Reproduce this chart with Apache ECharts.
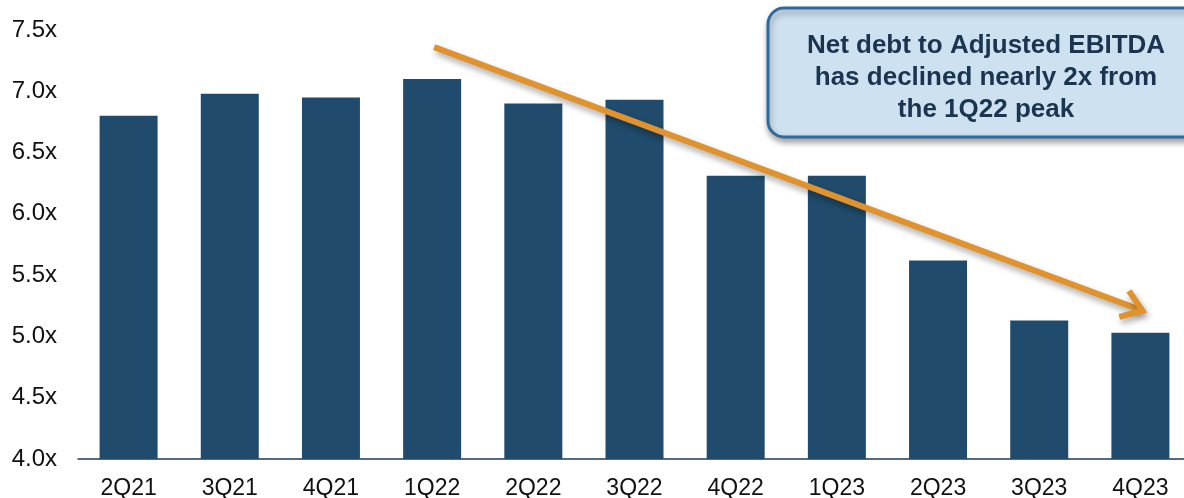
<!DOCTYPE html>
<html>
<head>
<meta charset="utf-8">
<script src="https://cdn.jsdelivr.net/npm/echarts@6/dist/echarts.min.js"></script>
<style>
html,body{margin:0;padding:0;background:#fff;}
#c{width:1184px;height:498px;}
</style>
</head>
<body>
<div id="c"></div>
<script>
const categories = ['2Q21','3Q21','4Q21','1Q22','2Q22','3Q22','4Q22','1Q23','2Q23','3Q23','4Q23'];
const leverage = [6.80, 6.98, 6.95, 7.10, 6.90, 6.93, 6.31, 6.31, 5.62, 5.13, 5.03];
const yTicks = {min: 4.0, max: 7.5, interval: 0.5};
const calloutLines = ['Net debt to Adjusted EBITDA', 'has declined nearly 2x from', 'the 1Q22 peak'];
// trend arrow endpoints in data space: [category index, value]
const arrowStart = [3.02, 7.36];
const arrowEnd = [10.02, 5.21];

const chart = echarts.init(document.getElementById('c'), null, {renderer: 'canvas'});
const font = '"Liberation Sans", Arial, sans-serif';
chart.setOption({
  animation: false,
  grid: {left: 78, top: 30, width: 1113, height: 429, containLabel: false, outerBoundsMode: 'none'},
  xAxis: {
    type: 'category',
    data: categories,
    axisLine: {lineStyle: {color: '#1F3A55', width: 1.5}},
    axisTick: {show: false},
    axisLabel: {color: '#111', fontSize: 23, fontFamily: font, margin: 18}
  },
  yAxis: {
    type: 'value',
    min: yTicks.min, max: yTicks.max, interval: yTicks.interval,
    splitLine: {show: false},
    axisLine: {show: false},
    axisTick: {show: false},
    axisLabel: {color: '#111', fontSize: 24, fontFamily: font, margin: 21,
      formatter: v => v.toFixed(1) + 'x'}
  },
  series: [{
    type: 'bar',
    data: leverage,
    barWidth: 58,
    itemStyle: {color: '#204B6C'}
  }]
});

function px(pt) {
  const a = chart.convertToPixel({xAxisIndex: 0}, 0);
  const b = chart.convertToPixel({xAxisIndex: 0}, 1);
  const x = a + (b - a) * pt[0];
  const y = chart.convertToPixel({yAxisIndex: 0}, pt[1]);
  return [x, y];
}
const s = px(arrowStart), e = px(arrowEnd);
const ang = Math.atan2(e[1] - s[1], e[0] - s[0]);
const hl = 24, ha = 0.62;
const h1 = [e[0] - hl * Math.cos(ang - ha), e[1] - hl * Math.sin(ang - ha)];
const h2 = [e[0] - hl * Math.cos(ang + ha), e[1] - hl * Math.sin(ang + ha)];
const arrowStyle = {stroke: '#E0922E', lineWidth: 6, lineCap: 'butt', lineJoin: 'miter',
  shadowColor: 'rgba(0,0,0,0.35)', shadowBlur: 6, shadowOffsetX: 2, shadowOffsetY: 4, fill: null};

chart.setOption({
  graphic: [
    {type: 'line', z: 10, shape: {x1: s[0], y1: s[1], x2: e[0] - 3*Math.cos(ang), y2: e[1] - 3*Math.sin(ang)}, style: arrowStyle},
    {type: 'polyline', z: 10, shape: {points: [h1, e, h2]}, style: arrowStyle},
    {type: 'rect', z: 20, shape: {x: 768, y: 8, width: 440, height: 129, r: 16},
      style: {fill: '#CDE1F1', stroke: '#2F6A9B', lineWidth: 3,
        shadowColor: 'rgba(0,0,0,0.35)', shadowBlur: 6, shadowOffsetX: 1, shadowOffsetY: 4}},
    {type: 'text', z: 21, left: 986 - 200, top: 30,
      style: {text: calloutLines.join('\n'), width: 400, align: 'center', x: 986, y: 30,
        textAlign: 'center', fill: '#1B3550', font: 'bold 26px ' + font, lineHeight: 32}}
  ]
});
</script>
</body>
</html>
